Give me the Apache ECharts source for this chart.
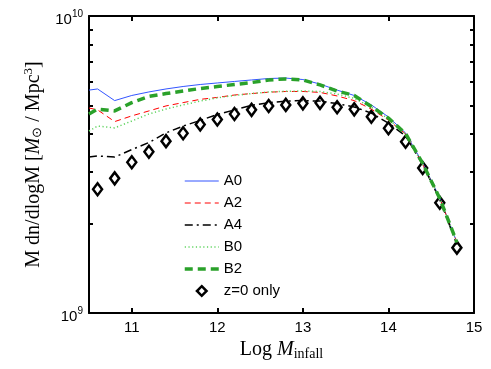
<!DOCTYPE html>
<html>
<head>
<meta charset="utf-8">
<script src="https://cdn.jsdelivr.net/npm/echarts@6/dist/echarts.min.js"></script>
<style>
html,body{margin:0;padding:0;background:#fff;}
#chart{width:491px;height:369px;}
</style>
</head>
<body>
<div id="chart"></div>
<script>
// log10(M_infall) sample points for model curves
const lineX = [10.5, 10.6, 10.8, 11.0, 11.2, 11.4, 11.6, 11.8, 12.0, 12.2, 12.4, 12.6, 12.8, 13.0, 13.2, 13.4, 13.6, 13.8, 14.0, 14.2, 14.4, 14.6, 14.8];
// sample points for the z=0 only markers
const z0X = [10.6, 10.8, 11.0, 11.2, 11.4, 11.6, 11.8, 12.0, 12.2, 12.4, 12.6, 12.8, 13.0, 13.2, 13.4, 13.6, 13.8, 14.0, 14.2, 14.4, 14.6, 14.8];

const A0 = [5.63e9, 5.68e9, 5.19e9, 5.40e9, 5.55e9, 5.68e9, 5.79e9, 5.88e9, 5.95e9, 6.02e9, 6.09e9, 6.16e9, 6.18e9, 6.11e9, 5.90e9, 5.63e9, 5.40e9, 5.02e9, 4.57e9, 4.04e9, 3.20e9, 2.44e9, 1.73e9];
const A2 = [4.90e9, 4.83e9, 4.41e9, 4.61e9, 4.79e9, 4.98e9, 5.11e9, 5.24e9, 5.32e9, 5.42e9, 5.48e9, 5.54e9, 5.57e9, 5.57e9, 5.53e9, 5.38e9, 5.19e9, 4.86e9, 4.46e9, 4.01e9, 3.17e9, 2.43e9, 1.73e9];
const A4 = [3.35e9, 3.38e9, 3.35e9, 3.55e9, 3.75e9, 4.04e9, 4.26e9, 4.45e9, 4.66e9, 4.83e9, 5.00e9, 5.11e9, 5.17e9, 5.19e9, 5.17e9, 5.07e9, 4.94e9, 4.71e9, 4.36e9, 3.95e9, 3.16e9, 2.41e9, 1.70e9];
const B0 = [4.10e9, 4.26e9, 4.20e9, 4.43e9, 4.68e9, 4.86e9, 5.02e9, 5.17e9, 5.30e9, 5.40e9, 5.48e9, 5.55e9, 5.58e9, 5.59e9, 5.57e9, 5.46e9, 5.28e9, 4.94e9, 4.50e9, 4.01e9, 3.17e9, 2.43e9, 1.73e9];
const B2 = [4.68e9, 4.86e9, 4.79e9, 5.11e9, 5.36e9, 5.48e9, 5.59e9, 5.70e9, 5.79e9, 5.88e9, 5.97e9, 6.09e9, 6.14e9, 6.09e9, 5.86e9, 5.59e9, 5.40e9, 4.96e9, 4.53e9, 4.02e9, 3.19e9, 2.43e9, 1.73e9];
const Z0 = [2.61e9, 2.84e9, 3.22e9, 3.49e9, 3.79e9, 4.03e9, 4.31e9, 4.48e9, 4.68e9, 4.83e9, 4.98e9, 5.02e9, 5.08e9, 5.10e9, 4.93e9, 4.85e9, 4.58e9, 4.19e9, 3.77e9, 3.08e9, 2.35e9, 1.66e9];

const xTicks = [11, 12, 13, 14, 15];
const yMinorTicks = [1e9, 2e9, 3e9, 4e9, 5e9, 6e9, 7e9, 8e9, 9e9, 1e10];

const pair = (xs, ys) => xs.map((x, i) => [x, ys[i]]);
const sans = 'Liberation Sans';
const serif = 'Liberation Serif';
const axisLineStyle = { color: '#000', width: 2 };

const chart = echarts.init(document.getElementById('chart'), null, { renderer: 'canvas' });

const xBase = {
  type: 'value', min: 10.5, max: 15,
  axisLine: { show: true, lineStyle: axisLineStyle },
  axisTick: { show: true, inside: true, length: 5, lineStyle: { color: '#000', width: 2 }, customValues: xTicks },
  splitLine: { show: false }
};
const logTickVals = yMinorTicks.map(v => Math.log10(v));
const hideSym = { opacity: 0 };

const option = {
  animation: false,
  backgroundColor: '#fff',
  grid: { left: 89, right: 17, top: 16, bottom: 56, containLabel: false },
  legend: {
    orient: 'vertical', left: 178, top: 168,
    itemWidth: 34, itemHeight: 12, itemGap: 6,
    textStyle: { fontFamily: sans, fontSize: 15, color: '#000', lineHeight: 16 },
    data: [
      { name: 'A0', lineStyle: { width: 1 }, itemStyle: hideSym },
      { name: 'A2', lineStyle: { width: 1 }, itemStyle: hideSym },
      { name: 'A4', lineStyle: { width: 1.5 }, itemStyle: hideSym },
      { name: 'B0', lineStyle: { width: 1.5 }, itemStyle: hideSym },
      { name: 'B2', lineStyle: { width: 3.5 }, itemStyle: hideSym },
      { name: 'z=0 only', lineStyle: { width: 0, opacity: 0 }, itemStyle: { color: '#fff', borderColor: '#000', borderWidth: 2.5 } }
    ]
  },
  xAxis: [
    Object.assign({}, xBase, {
      position: 'bottom',
      axisLabel: { show: true, customValues: xTicks, fontFamily: sans, fontSize: 15, color: '#000', margin: 7 },
      name: '{t|Log }{i|M}{s|infall}',
      nameLocation: 'middle', nameGap: 17,
      nameTextStyle: {
        rich: {
          t: { fontFamily: serif, fontSize: 20, color: '#000' },
          i: { fontFamily: serif, fontSize: 20, fontStyle: 'italic', color: '#000' },
          s: { fontFamily: serif, fontSize: 14, color: '#000', padding: [9, 0, 0, 0] }
        }
      }
    }),
    Object.assign({}, xBase, { position: 'top', axisLabel: { show: false } })
  ],
  yAxis: [
    {
      type: 'log', logBase: 10, min: 1e9, max: 1e10, position: 'left',
      axisLine: { show: true, lineStyle: axisLineStyle },
      axisTick: { show: false },
      splitLine: { show: false },
      axisLabel: {
        show: true, margin: 6, padding: [7, 0, 0, 0],
        formatter: v => '{b|10}{s|' + Math.round(Math.log10(v)) + '}',
        rich: {
          b: { fontFamily: sans, fontSize: 15, color: '#000' },
          s: { fontFamily: sans, fontSize: 10, color: '#000', padding: [0, 0, 10, 0] }
        }
      },
      name: '{t|M dn/dlogM [}{i|M}{s|⊙}{t| / Mpc}{p|3}{t|]}',
      nameLocation: 'middle', nameGap: 32,
      nameTextStyle: {
        rich: {
          t: { fontFamily: serif, fontSize: 20, color: '#000' },
          i: { fontFamily: serif, fontSize: 20, fontStyle: 'italic', color: '#000' },
          s: { fontFamily: serif, fontSize: 13, color: '#000', padding: [9, 0, 0, 0] },
          p: { fontFamily: serif, fontSize: 13, color: '#000', padding: [0, 0, 10, 0] }
        }
      }
    },
    {
      type: 'log', logBase: 10, min: 1e9, max: 1e10, position: 'right',
      axisLine: { show: true, lineStyle: axisLineStyle },
      axisTick: { show: false }, axisLabel: { show: false }, splitLine: { show: false }
    },
    {
      type: 'value', min: 9, max: 10, position: 'left',
      axisLine: { show: false },
      axisTick: { show: true, inside: true, length: 4, lineStyle: { color: '#000', width: 2 }, customValues: logTickVals },
      axisLabel: { show: false }, splitLine: { show: false }
    },
    {
      type: 'value', min: 9, max: 10, position: 'right',
      axisLine: { show: false },
      axisTick: { show: true, inside: true, length: 4, lineStyle: { color: '#000', width: 2 }, customValues: logTickVals },
      axisLabel: { show: false }, splitLine: { show: false }
    }
  ],
  series: [
    { name: 'z=0 only', type: 'line', data: pair(z0X, Z0), symbol: 'diamond', symbolSize: [9, 12],
      showSymbol: true, showAllSymbol: true,
      lineStyle: { width: 0, opacity: 0 },
      itemStyle: { color: '#fff', borderColor: '#000', borderWidth: 2.5, opacity: 1 }, z: 3 },
    { name: 'A0', type: 'line', data: pair(lineX, A0), symbol: 'none', showSymbol: false,
      lineStyle: { color: '#3355ff', width: 1, type: 'solid' }, itemStyle: { color: '#3355ff' }, z: 4 },
    { name: 'A2', type: 'line', data: pair(lineX, A2), symbol: 'none', showSymbol: false,
      lineStyle: { color: '#ff0000', width: 1, type: [6, 4] }, itemStyle: { color: '#ff0000' }, z: 4 },
    { name: 'A4', type: 'line', data: pair(lineX, A4), symbol: 'none', showSymbol: false,
      lineStyle: { color: '#000', width: 1.5, type: [8, 4, 2, 4] }, itemStyle: { color: '#000' }, z: 4 },
    { name: 'B0', type: 'line', data: pair(lineX, B0), symbol: 'none', showSymbol: false,
      lineStyle: { color: '#5fd35f', width: 1.5, type: [1.2, 2.5] }, itemStyle: { color: '#5fd35f' }, z: 4 },
    { name: 'B2', type: 'line', data: pair(lineX, B2), symbol: 'none', showSymbol: false,
      lineStyle: { color: '#2aa12a', width: 3.5, type: [8, 5] }, itemStyle: { color: '#2aa12a' }, z: 5 }
  ]
};
chart.setOption(option);
</script>
</body>
</html>
